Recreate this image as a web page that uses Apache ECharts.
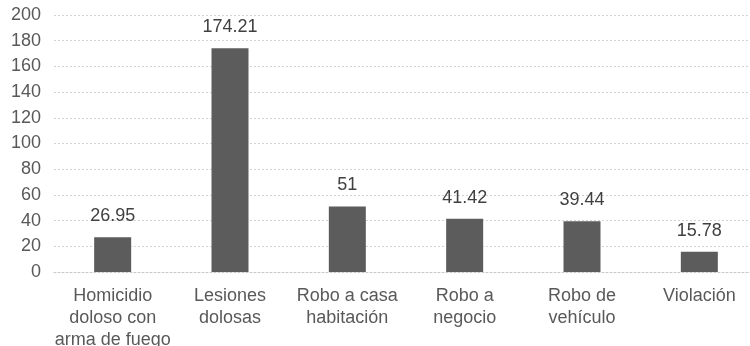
<!DOCTYPE html>
<html>
<head>
<meta charset="utf-8">
<script src="https://cdn.jsdelivr.net/npm/echarts@6/dist/echarts.min.js"></script>
<style>
  html, body { margin: 0; padding: 0; background: #ffffff; }
  #chart { width: 750px; height: 346px; }
</style>
</head>
<body>
<div id="chart"></div>
<script>
// Crime categories and their rates
const categories = [
  'Homicidio\ndoloso con\narma de fuego',
  'Lesiones\ndolosas',
  'Robo a casa\nhabitación',
  'Robo a\nnegocio',
  'Robo de\nvehículo',
  'Violación'
];
const values = [26.95, 174.21, 51, 41.42, 39.44, 15.78];
const yTicks = { min: 0, max: 200, interval: 20 };

const font = 'Liberation Sans, Arial, sans-serif';

const chart = echarts.init(document.getElementById('chart'));
chart.setOption({
  animation: false,
  backgroundColor: '#ffffff',
  grid: {
    left: 54, top: 15, width: 704, height: 257,
    containLabel: false, outerBoundsMode: 'none'
  },
  xAxis: {
    type: 'category',
    data: categories,
    axisLine: { show: true, lineStyle: { color: '#c8c8c8', type: [2, 2], width: 1 } },
    axisTick: { show: false },
    axisLabel: {
      color: '#595959',
      fontFamily: font,
      fontSize: 18,
      lineHeight: 22,
      margin: 13,
      interval: 0
    }
  },
  yAxis: {
    type: 'value',
    min: yTicks.min,
    max: yTicks.max,
    interval: yTicks.interval,
    axisLine: { show: false },
    axisTick: { show: false },
    splitLine: { lineStyle: { color: '#d2d2d2', type: [2, 2], width: 1 } },
    axisLabel: {
      color: '#595959',
      fontFamily: font,
      fontSize: 18,
      margin: 13
    }
  },
  series: [{
    type: 'bar',
    data: values,
    barWidth: 37,
    itemStyle: { color: '#5c5c5c' },
    label: {
      show: true,
      position: 'top',
      distance: 12,
      color: '#404040',
      fontFamily: font,
      fontSize: 18
    }
  }]
});
</script>
</body>
</html>
